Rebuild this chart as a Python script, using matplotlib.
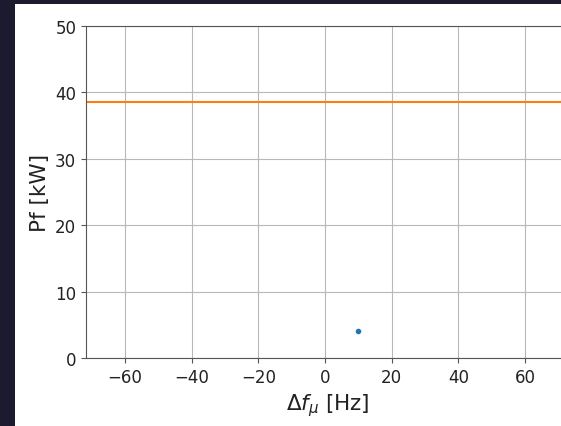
import matplotlib.pyplot as plt
from matplotlib.patches import Rectangle

# measured power vs. frequency offset
delta_f = [10.0]
pf_kw = [4.1]
pf_limit = 38.6

x_ticks = [-60, -40, -20, 0, 20, 40, 60]
y_ticks = [0, 10, 20, 30, 40, 50]

fig = plt.figure(figsize=(5.61, 4.27), dpi=100)
fig.patch.set_facecolor("#1b1a2e")
# white canvas region of the window, kept behind the axes
canvas = Rectangle((15 / 561, 0), 1, 1 - 5 / 427, transform=fig.transFigure,
                   facecolor="white", edgecolor="none", zorder=-10)
fig.add_artist(canvas)

# axes run past the right edge of the window
ax = fig.add_axes([86 / 561, 1 - 359 / 427, (570 - 86) / 561, (359 - 27) / 427])
ax.set_facecolor("white")
ax.plot(delta_f, pf_kw, "o", color="#1f77b4", ms=3)
ax.axhline(pf_limit, color="#ff7f0e", lw=1.5)
ax.set_xlim(-71.7, 73.5)
ax.set_ylim(0, 50)
ax.set_xticks(x_ticks)
ax.set_yticks(y_ticks)
ax.tick_params(labelsize=12, colors="#222222")
ax.tick_params(color="#555555")
for spine in ax.spines.values():
    spine.set_color("#555555")
ax.spines["right"].set_visible(False)
ax.grid(True, color="#b8b8b8", lw=0.8)
ax.set_axisbelow(True)
ax.set_xlabel(r"$\Delta f_\mu$ [Hz]", fontsize=15.5, color="#222222")
ax.set_ylabel("Pf [kW]", fontsize=15.5, color="#222222")

fig.savefig("out.png", dpi=100, facecolor=fig.get_facecolor())
